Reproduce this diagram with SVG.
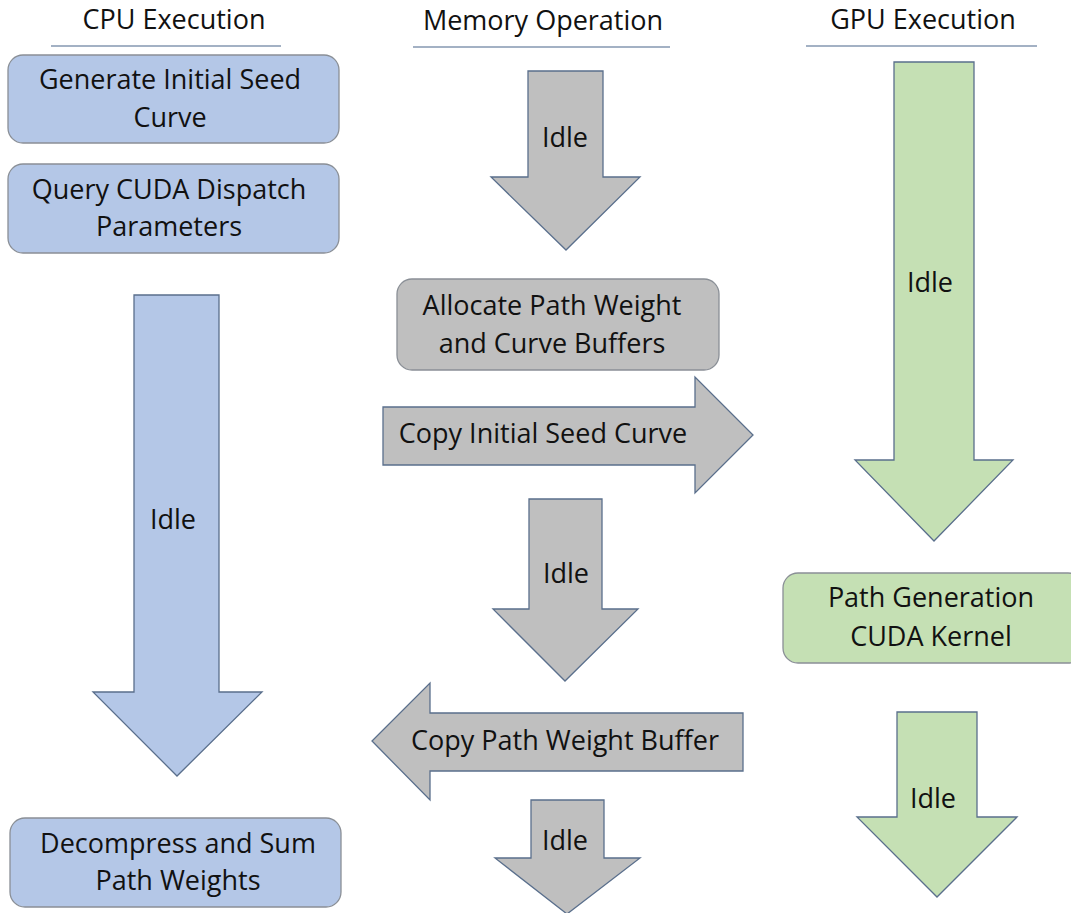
<svg xmlns="http://www.w3.org/2000/svg" width="1071" height="913" viewBox="0 0 1071 913">
<style>
text{font-family:"Open Sans","Noto Sans","Liberation Sans",sans-serif;font-size:27px;fill:#111;text-anchor:middle}
.hdr{font-size:27px}
.hl{stroke:#8497b0;stroke-width:1.3;fill:none}
.cpu{fill:#b4c7e7}
.mem{fill:#bfbfbf}
.gpu{fill:#c5e0b4}
.box{stroke:#8a8f96;stroke-width:1.3}
.arr{stroke:#5a6f8c;stroke-width:1.3;stroke-linejoin:miter}
</style>
<rect width="1071" height="913" fill="#fff"/>
<g id="headers">
<text class="hdr" x="174" y="29">CPU Execution</text>
<line class="hl" x1="51" y1="46" x2="281" y2="46"/>
<text class="hdr" x="543" y="30">Memory Operation</text>
<line class="hl" x1="413" y1="47" x2="670" y2="47"/>
<text class="hdr" x="923" y="29">GPU Execution</text>
<line class="hl" x1="806" y1="46" x2="1037" y2="46"/>
</g>
<g id="cpu-seed">
<rect class="cpu box" x="8" y="55" width="331" height="88" rx="15"/>
<text x="170" y="89">Generate Initial Seed</text>
<text x="170" y="127">Curve</text>
</g>
<g id="cpu-query">
<rect class="cpu box" x="8" y="164" width="331" height="89" rx="15"/>
<text x="169" y="199">Query CUDA Dispatch</text>
<text x="169" y="236">Parameters</text>
</g>
<g id="cpu-idle">
<polygon class="cpu arr" points="134,295 219,295 219,692 262,692 177,776 93,692 134,692"/>
<text x="173" y="529">Idle</text>
</g>
<g id="cpu-decompress">
<rect class="cpu box" x="10" y="818" width="331" height="89" rx="15"/>
<text x="178" y="853">Decompress and Sum</text>
<text x="178" y="890">Path Weights</text>
</g>
<g id="mem-idle-1">
<polygon class="mem arr" points="528,71 603,71 603,177 640,177 566,250 491,177 528,177"/>
<text x="565" y="147">Idle</text>
</g>
<g id="mem-allocate">
<rect class="mem box" x="397" y="279" width="322" height="91" rx="15"/>
<text x="552" y="315">Allocate Path Weight</text>
<text x="552" y="353">and Curve Buffers</text>
</g>
<g id="mem-copy-seed">
<polygon class="mem arr" points="383,407 695,407 695,377 753,435 695,493 695,465 383,465"/>
<text x="543" y="443">Copy Initial Seed Curve</text>
</g>
<g id="mem-idle-2">
<polygon class="mem arr" points="529,499 602,499 602,609 638,609 565,681 493,609 529,609"/>
<text x="566" y="583">Idle</text>
</g>
<g id="mem-copy-weights">
<polygon class="mem arr" points="743,713 430,713 430,683 372,741 430,800 430,771 743,771"/>
<text x="565" y="750">Copy Path Weight Buffer</text>
</g>
<g id="mem-idle-3">
<polygon class="mem arr" points="531,800 604,800 604,858 640,858 567,914 495,858 531,858"/>
<text x="565" y="850">Idle</text>
</g>
<g id="gpu-idle-1">
<polygon class="gpu arr" points="894,62 974,62 974,460 1013,460 934,541 855,460 894,460"/>
<text x="930" y="292">Idle</text>
</g>
<g id="gpu-kernel">
<rect class="gpu box" x="783" y="573" width="300" height="90" rx="15"/>
<text x="931" y="607">Path Generation</text>
<text x="931" y="646">CUDA Kernel</text>
</g>
<g id="gpu-idle-2">
<polygon class="gpu arr" points="897,712 977,712 977,817 1017,817 937,897 857,817 897,817"/>
<text x="933" y="808">Idle</text>
</g>
<g id="connectors"></g>
</svg>
